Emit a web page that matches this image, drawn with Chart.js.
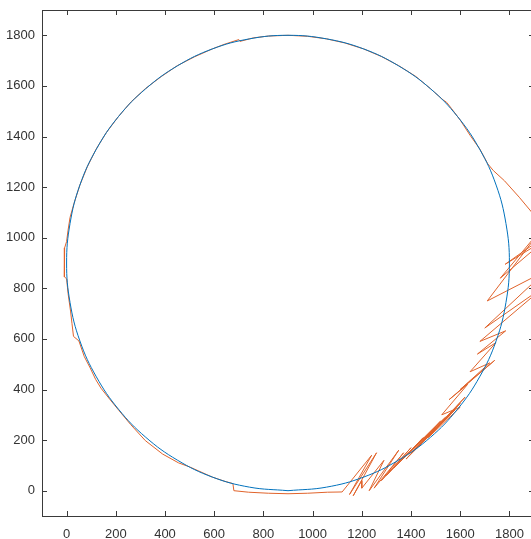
<!DOCTYPE html>
<html>
<head>
<meta charset="utf-8">
<script src="https://cdn.jsdelivr.net/npm/chart.js@4.4.1/dist/chart.umd.min.js"></script>
<style>
  html, body { margin: 0; padding: 0; background: #fff; overflow: hidden; }
  #wrap { width: 540px; height: 539px; }
</style>
</head>
<body>
<div id="wrap"><canvas id="plot" width="540" height="539"></canvas></div>
<script>
// Axis ranges and tick labels
const xRange = [-100, 1900];
const yRange = [-100, 1900];
const xTicks = [0, 200, 400, 600, 800, 1000, 1200, 1400, 1600, 1800];
const yTicks = [0, 200, 400, 600, 800, 1000, 1200, 1400, 1600, 1800];

// Reference path (blue circle)
const refX = [900, 1056, 1208, 1350, 1479, 1589, 1679, 1746, 1786, 1800, 1786, 1746, 1679, 1589, 1479, 1350, 1208, 1056,
              900, 744, 592, 450, 322, 211, 121, 54, 14, 0, 14, 54, 121, 211, 322, 450, 592, 744, 900];
const refY = [0, 14, 54, 121, 211, 322, 450, 592, 744, 900, 1056, 1208, 1350, 1479, 1589, 1679, 1746, 1786,
              1800, 1786, 1746, 1679, 1589, 1479, 1350, 1208, 1056, 900, 744, 592, 450, 322, 211, 121, 54, 14, 0];

// Estimated trajectory (orange): smooth part, then the needle-like jumps in the lower right
const estX = [1960, 1900, 1840, 1780, 1735, 1712, 1680, 1640, 1600, 1565, 1545, 1530, 1478, 1420, 1350, 1280, 1208, 1130,
              1056, 980, 900, 820, 760, 705, 700, 640, 592, 520, 450, 385, 321, 262, 210, 162, 120, 84, 54, 30, 14, 6,
              0, -8, -10, -8, 0, 6, 16, 22, 28, 50, 72, 96, 118, 140, 175, 212, 260, 320, 390, 455, 500, 592, 640, 676,
              680, 740, 820, 900, 980, 1060, 1120,
              1240, 1150, 1260, 1165, 1200, 1200, 1290, 1230, 1350, 1250, 1370, 1280, 1400, 1300, 1450, 1330, 1500,
              1360, 1540, 1350, 1520, 1380, 1560, 1420, 1600, 1400, 1580, 1430, 1620, 1470, 1600, 1525, 1630,
              1555, 1740, 1600, 1720, 1640, 1745, 1670,
              1785, 1680, 1950, 1700, 1950, 1710, 1950, 1763, 1950, 1783, 1950];
const estY = [1020, 1090, 1160, 1225, 1265, 1292, 1350, 1405, 1465, 1510, 1535, 1545, 1590, 1637, 1680, 1716, 1746, 1770,
              1786, 1796, 1800, 1797, 1790, 1776, 1783, 1764, 1746, 1715, 1680, 1637, 1590, 1537, 1478, 1416, 1350, 1280,
              1208, 1135, 1080, 1030, 985, 960, 900, 845, 838, 780, 710, 660, 610, 592, 530, 485, 440, 405, 362, 318,
              262, 198, 145, 110, 94, 54, 38, 28,
              0, -6, -10, -12, -10, -6, -5,
              140, -15, 150, -20, 40, 10, 120, 0, 160, 10, 150, 40, 170, 60, 210, 90, 250,
              120, 290, 110, 275, 125, 300, 165, 345, 150, 320, 175, 370, 210, 330, 300, 420,
              360, 515, 400, 505, 470, 585, 540,
              632, 590, 813, 643, 870, 750, 1058, 840, 995, 895, 1010];

const toPoints = (xs, ys) => xs.map((x, i) => ({ x: x, y: ys[i] }));

// Inward ticks and full box, drawn like a MATLAB axes
const boxPlugin = {
  id: 'box',
  afterDatasetsDraw(chart) {
    const { ctx, chartArea: { left, right, top, bottom }, scales: { x, y } } = chart;
    ctx.save();
    ctx.strokeStyle = '#3a3a3a';
    ctx.lineWidth = 1;
    ctx.beginPath();
    xTicks.forEach(v => {
      const px = Math.round(x.getPixelForValue(v)) + 0.5;
      ctx.moveTo(px, bottom); ctx.lineTo(px, bottom - 5);
      ctx.moveTo(px, top); ctx.lineTo(px, top + 5);
    });
    yTicks.forEach(v => {
      const py = Math.round(y.getPixelForValue(v)) + 0.5;
      ctx.moveTo(left, py); ctx.lineTo(left + 5, py);
      ctx.moveTo(right, py); ctx.lineTo(right - 5, py);
    });
    ctx.stroke();
    ctx.strokeRect(Math.round(left) + 0.5, Math.round(top) + 0.5, Math.round(right - left), Math.round(bottom - top));
    ctx.restore();
  }
};

const ctx = document.getElementById('plot').getContext('2d');

const trackChart = new Chart(ctx, {
  type: 'scatter',
  data: {
    datasets: [
      {
        label: 'reference',
        data: toPoints(refX, refY),
        showLine: true,
        borderColor: '#0072BD',
        borderWidth: 1,
        pointRadius: 0,
        tension: 0.4
      },
      {
        label: 'estimate',
        data: toPoints(estX, estY),
        showLine: true,
        borderColor: '#E0632B',
        borderWidth: 1,
        pointRadius: 0,
        tension: 0
      }
    ]
  },
  options: {
    responsive: false,
    animation: false,
    layout: { padding: { left: 0, top: 10, right: 6, bottom: 0 } },
    plugins: {
      legend: { display: false },
      tooltip: { enabled: false }
    },
    scales: {
      x: {
        type: 'linear',
        min: xRange[0],
        max: xRange[1],
        grid: { display: false, drawTicks: false },
        border: { display: false },
        afterBuildTicks: scale => { scale.ticks = xTicks.map(v => ({ value: v })); },
        afterFit: scale => { scale.height = 23; scale.paddingLeft = 0; scale.paddingRight = 0; },
        ticks: {
          padding: 11,
          maxRotation: 0,
          color: '#333',
          font: { family: 'Liberation Sans', size: 13 },
          callback: v => String(v)
        }
      },
      y: {
        type: 'linear',
        min: yRange[0],
        max: yRange[1],
        grid: { display: false, drawTicks: false },
        border: { display: false },
        afterBuildTicks: scale => { scale.ticks = yTicks.map(v => ({ value: v })); },
        afterFit: scale => { scale.width = 42; scale.paddingTop = 0; scale.paddingBottom = 0; },
        ticks: {
          padding: 7,
          color: '#333',
          font: { family: 'Liberation Sans', size: 13 },
          callback: v => String(v)
        }
      }
    }
  },
  plugins: [boxPlugin]
});
</script>
</body>
</html>
